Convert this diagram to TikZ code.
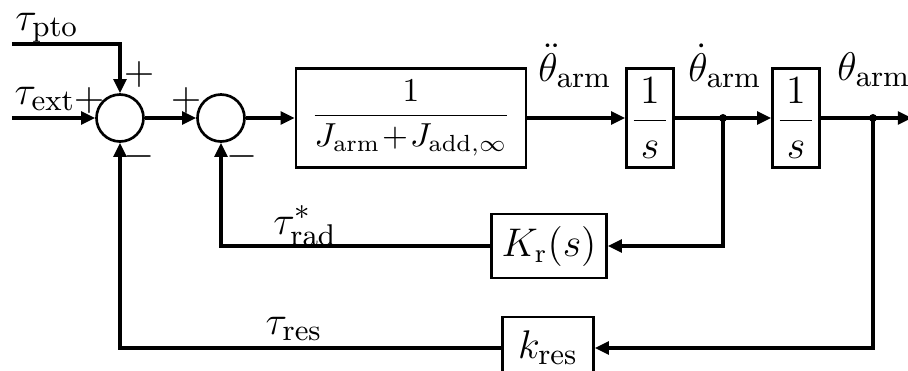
\documentclass[tikz,border=0pt]{standalone}
\usetikzlibrary{arrows.meta}
\begin{document}
\begin{tikzpicture}[x=0.3pt,y=-0.3pt,line width=1pt,
  >={Triangle[length=4.2pt,width=3.8pt]},
  blk/.style={draw,line width=0.8pt,inner sep=0pt},
  sumc/.style={draw,circle,line width=0.8pt,minimum size=14.1pt,inner sep=0pt},
  lbl/.style={inner sep=0pt,anchor=base,font=\fontsize{12.5}{14}\selectfont},
  thl/.style={inner sep=0pt,anchor=base,font=\fontsize{13}{15}\selectfont},
  sgn/.style={inner sep=0pt,font=\fontsize{13}{15}\selectfont}]
\useasboundingbox (0,0) rectangle (908,370);
% nodes
\node[sumc] (s1) at (120,118) {};
\node[sumc] (s2) at (221,118) {};
\node[blk,minimum width=69pt,minimum height=29.7pt,font=\fontsize{10}{12}\selectfont] (G) at (411,118) {$\displaystyle\frac{1}{J_{\mathrm{arm}}\!+\!J_{\mathrm{add},\infty}}$};
\node[blk,minimum width=14.1pt,minimum height=29.7pt,font=\fontsize{13}{15}\selectfont] (I1) at (650,118) {$\displaystyle\frac{\,1\,}{s}$};
\node[blk,minimum width=14.1pt,minimum height=29.7pt,font=\fontsize{13}{15}\selectfont] (I2) at (796,118) {$\displaystyle\frac{\,1\,}{s}$};
\node[blk,minimum width=34.5pt,minimum height=19.2pt,font=\fontsize{12}{14}\selectfont] (K) at (549,246) {$K_{\mathrm{r}}(s)$};
\node[blk,minimum width=27.3pt,minimum height=18.6pt,font=\fontsize{12.5}{14}\selectfont] (k) at (548,348) {$k_{\mathrm{res}}$};
\coordinate (pto) at (12,44);
\coordinate (ext) at (12,118);
\coordinate (d1) at (723,118);
\coordinate (d2) at (873,118);
\coordinate (out) at (912,118);
% connectors
\draw[->] (pto) -| (s1.north);
\draw[->] (ext) -- (s1.west);
\draw[->] (s1) -- (s2);
\draw[->] (s2) -- (G);
\draw[->] (G) -- (I1);
\draw (I1) -- (d1);
\draw[->] (d1) -- (I2);
\draw (I2) -- (d2);
\draw[->] (d2) -- (out);
\draw[->] (d1) |- (K.east);
\draw[->] (K.west) -| (s2.south);
\draw[->] (d2) |- (k.east);
\draw[->] (k.west) -| (s1.south);
\fill (d1) circle (1.2pt);
\fill (d2) circle (1.2pt);
% labels
\node[lbl] (Lpto) at (47,30) {$\tau_{\mathrm{pto}}$};
\node[lbl] (Lext) at (45,104) {$\tau_{\mathrm{ext}}$};
\node[thl] (Ldd) at (575,81) {$\ddot{\theta}_{\mathrm{arm}}$};
\node[thl] (Ld) at (725,81) {$\dot{\theta}_{\mathrm{arm}}$};
\node[thl] (Lth) at (874,80) {$\theta_{\mathrm{arm}}$};
\node[lbl] (Lrad) at (305,234) {$\tau^{*}_{\mathrm{rad}}$};
\node[lbl] (Lres) at (294,334) {$\tau_{\mathrm{res}}$};
% signs
\node[sgn] (p1) at (139,74) {$+$};
\node[sgn] (p2) at (89,100) {$+$};
\node[sgn] (p3) at (186,100) {$+$};
\node[sgn] (m1) at (139,156) {$-$};
\node[sgn] (m2) at (242,156) {$-$};
\end{tikzpicture}
\end{document}
